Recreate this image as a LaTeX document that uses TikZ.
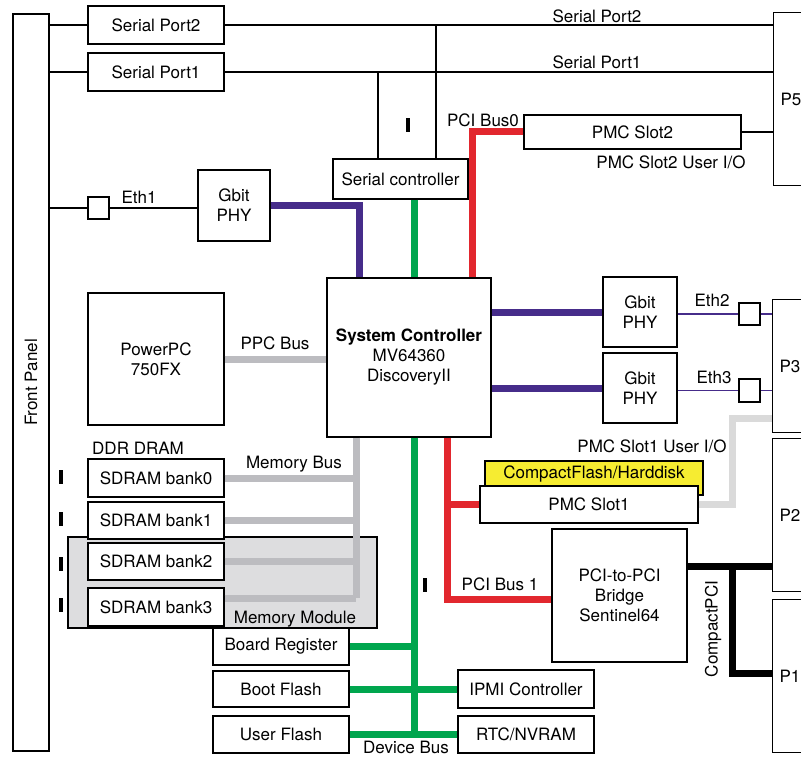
\documentclass[tikz,border=0pt]{standalone}
\usepackage{fontspec}
\setmainfont{TeX Gyre Heros}
\usepackage{xcolor}
\definecolor{busPurple}{RGB}{70,44,138}
\definecolor{busGreen}{RGB}{0,166,78}
\definecolor{busRed}{RGB}{226,39,46}
\definecolor{busGray}{RGB}{188,188,192}
\definecolor{ioGray}{RGB}{218,218,218}
\definecolor{modGray}{RGB}{221,221,223}
\definecolor{cfYellow}{RGB}{246,236,49}

\begin{document}
\begin{tikzpicture}[x=1pt,y=-1pt,
  font=\fontsize{17}{20}\selectfont,
  box/.style={draw,line width=1.3pt,fill=white,inner sep=0pt,align=center},
  conn/.style={draw,line width=1.3pt,fill=white,inner xsep=7pt,text width=50pt,align=left,anchor=north west},
  wire/.style={line width=1.2pt},
  pbus/.style={line width=7pt,busPurple},
  gbus/.style={line width=7pt,busGreen},
  rbus/.style={line width=7pt,busRed},
  mbus/.style={line width=7pt,busGray},
  iobus/.style={line width=7pt,ioGray},
  kbus/.style={line width=7pt,black}]

\clip (0,0) rectangle (801,757);
\fill[white] (0,0) rectangle (801,757);

\node[box,minimum width=36pt,minimum height=737pt,label={[rotate=90]center:Front Panel}] (fp) at (31,382.5) {};
\node[box,fill=modGray,minimum width=309pt,minimum height=91pt] (memmod) at (222.5,582.5) {};

\node[box,minimum width=136pt,minimum height=38pt] (sp2) at (156,25) {Serial Port2};
\node[box,minimum width=136pt,minimum height=38pt] (sp1) at (156,72) {Serial Port1};
\node[conn,minimum height=173pt] (p5) at (773,12) {P5};
\node[conn,minimum height=133pt] (p3) at (772,299) {P3};
\node[conn,minimum height=153pt] (p2) at (772,438) {P2};
\node[conn,minimum height=153pt] (p1) at (772,599) {P1};

\node[box,minimum width=135pt,minimum height=40pt] (sc) at (400.5,179) {Serial controller};
\node[box,minimum width=217pt,minimum height=34pt] (pmc2) at (632.5,132) {PMC Slot2};
\node[box,minimum width=72pt,minimum height=71pt] (phy1) at (234,205.5) {Gbit\\PHY};
\node[box,minimum width=21pt,minimum height=22pt] (eth1) at (98.5,208) {};
\node[box,minimum width=164pt,minimum height=159pt] (ctrl) at (409,357.5) {\textbf{System Controller}\\MV64360\\DiscoveryII};
\node[box,minimum width=74pt,minimum height=70pt] (phy2) at (640,312) {Gbit\\PHY};
\node[box,minimum width=74pt,minimum height=70pt] (phy3) at (640,388) {Gbit\\PHY};
\node[box,minimum width=21pt,minimum height=22pt] (eth2) at (749.5,314) {};
\node[box,minimum width=21pt,minimum height=23pt] (eth3) at (749.5,390.5) {};
\node[box,minimum width=136pt,minimum height=132pt] (ppc) at (156,359) {PowerPC\\750FX};

\node[box,minimum width=136pt,minimum height=38pt] (bank0) at (156,478) {SDRAM bank0};
\node[box,minimum width=136pt,minimum height=37pt] (bank1) at (156,520.5) {SDRAM bank1};
\node[box,minimum width=136pt,minimum height=37pt] (bank2) at (156,561.5) {SDRAM bank2};
\node[box,minimum width=136pt,minimum height=38pt] (bank3) at (156,607) {SDRAM bank3};

\node[box,minimum width=136pt,minimum height=37pt] (breg) at (281,646.5) {Board Register};
\node[box,minimum width=136pt,minimum height=36pt] (boot) at (281,689) {Boot Flash};
\node[box,minimum width=136pt,minimum height=37pt] (user) at (281,734.5) {User Flash};
\node[box,minimum width=136pt,minimum height=38pt] (ipmi) at (526,689) {IPMI Controller};
\node[box,minimum width=136pt,minimum height=37pt] (rtc) at (526,734.5) {RTC/NVRAM};

\node[box,fill=cfYellow,minimum width=218pt,minimum height=34pt,
  label={[anchor=north,inner sep=5.5pt]north:CompactFlash/Harddisk}] (cf) at (594,478) {};
\node[box,minimum width=218pt,minimum height=37pt] (pmc1) at (589,504.5) {PMC Slot1};
\node[box,minimum width=135pt,minimum height=133pt] (bridge) at (619.5,595.5) {PCI-to-PCI\\Bridge\\Sentinel64};

\node (lsp2) at (597,16) {Serial Port2};
\node (lsp1) at (597,62) {Serial Port1};
\node (lpci0) at (483,120) {PCI Bus0};
\node (lpmc2io) at (671,162) {PMC Slot2 User I/O};
\node (leth1) at (139,197) {Eth1};
\node (lppc) at (275,343) {PPC Bus};
\node (leth2) at (712,300) {Eth2};
\node (leth3) at (714,377) {Eth3};
\node (lddr) at (138,448) {DDR DRAM};
\node (lmem) at (294,464) {Memory Bus};
\node (lpmc1io) at (652,446) {PMC Slot1 User I/O};
\node (lmod) at (295,619) {Memory Module};
\node (lpci1) at (500,584) {PCI Bus 1};
\node (ldev) at (406,747) {Device Bus};
\node[rotate=90] (lcpci) at (713,629) {CompactPCI};

\coordinate (dbus) at (414,732);
\coordinate (membus) at (356,598);
\coordinate (pci1) at (447,599);
\coordinate (uio) at (732,418);
\coordinate (cpci) at (732,673);
\coordinate (cbr) at ([yshift=29.5pt]bridge.east);

\draw[wire] (fp.east |- sp2.west) -- (sp2.west);
\draw[wire] (sp2.east) -- (sp2.east -| p5.west);
\draw[wire] (fp.east |- sp1.west) -- (sp1.west);
\draw[wire] (sp1.east) -- (sp1.east -| p5.west);
\draw[wire] ([xshift=35.5pt]sc.north) -- ([xshift=35.5pt]sc.north |- sp2.east);
\draw[wire] ([xshift=-22.5pt]sc.north) -- ([xshift=-22.5pt]sc.north |- sp1.east);
\draw[wire] (pmc2.east) -- (pmc2.east -| p5.west);
\draw[wire] (fp.east |- eth1.west) -- (eth1.west);
\draw[wire] (eth1.east) -- (eth1.east -| phy1.west);
\draw[wire,busPurple] (phy2.east |- eth2.west) -- (eth2.west);
\draw[wire,busPurple] (eth2.east) -- (eth2.east -| p3.west);
\draw[wire,busPurple] (phy3.east |- eth3.west) -- (eth3.west);
\draw[wire,busPurple] (eth3.east) -- (eth3.east -| p3.west);

\draw[pbus] (phy1.east) -| ([xshift=33pt]ctrl.north west);
\draw[pbus] (ctrl.east |- phy2.west) -- (phy2.west);
\draw[pbus] (ctrl.east |- phy3.west) -- (phy3.west);

\draw[rbus] (pmc2.west) -| ([xshift=146pt]ctrl.north west);
\draw[rbus] (pci1 |- ctrl.south) -- (pci1) -- (pci1 -| bridge.west);
\draw[rbus] (pmc1.west) -- (pmc1.west -| pci1);

\draw[gbus] (dbus |- sc.south) -- (dbus |- ctrl.north);
\draw[gbus] (dbus |- ctrl.south) -- (dbus);
\draw[gbus] (breg.east) -- (dbus |- breg.east);
\draw[gbus] (boot.east) -- (dbus |- boot.east);
\draw[gbus] (user.east) -- (dbus |- user.east);
\draw[gbus] (ipmi.west) -- (dbus |- ipmi.west);
\draw[gbus] (rtc.west) -- (dbus |- rtc.west);

\draw[mbus] (ppc.east) -- (ppc.east -| ctrl.west);
\draw[mbus] (membus |- ctrl.south) -- (membus);
\draw[mbus] (bank0.east) -- (membus |- bank0.east);
\draw[mbus] (bank1.east) -- (membus |- bank1.east);
\draw[mbus] (bank2.east) -- (membus |- bank2.east);
\draw[mbus] ([yshift=9pt]bank3.east) -- (membus);

\draw[iobus] (pmc1.east) -| (uio) -- (uio -| p3.west);

\draw[kbus] (cbr) -- (cbr -| p2.west);
\draw[kbus] (cbr -| cpci) |- (cpci -| p1.west);

\foreach \x/\y in {408/125, 61/477, 61/519, 61/564, 61/605, 425/585}
  \fill (\x-2.3,\y-7) rectangle (\x+2.3,\y+7);
\end{tikzpicture}
\end{document}
